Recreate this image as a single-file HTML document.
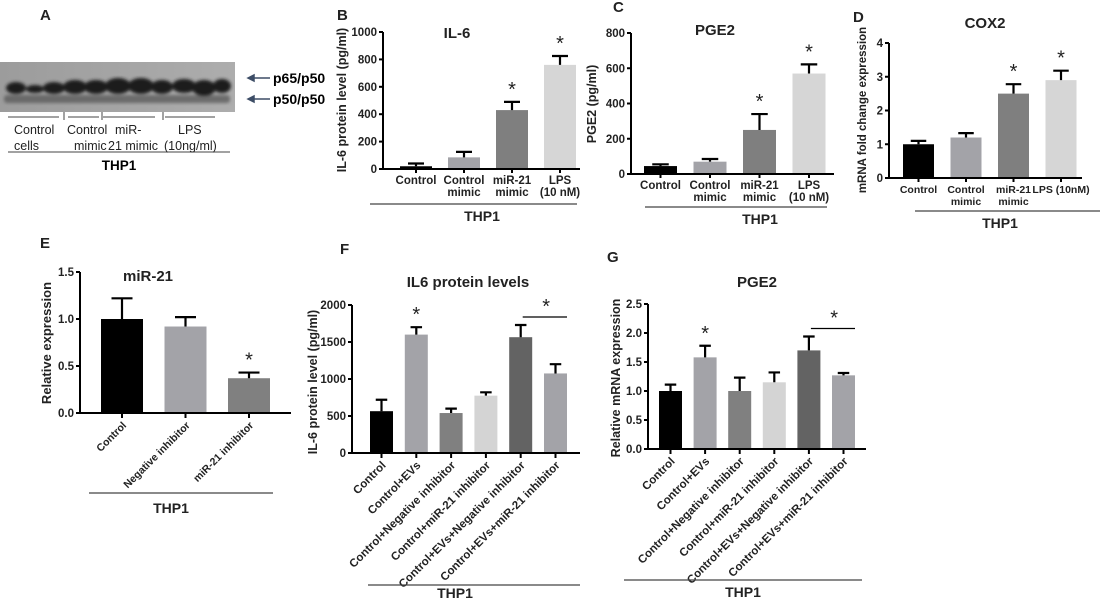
<!DOCTYPE html>
<html><head><meta charset="utf-8">
<style>
body{margin:0;background:#fff;}
svg{display:block;font-family:"Liberation Sans",Arial,sans-serif;}
.t{font-size:11.5px;font-weight:bold;fill:#222;}
.ttl{font-size:15px;font-weight:bold;fill:#222;}
.pl{font-size:15px;font-weight:bold;fill:#222;}
</style></head>
<body>
<svg id="fig" width="1100" height="603" viewBox="0 0 1100 603">
<g id="blot">
  <text x="40" y="20" class="pl">A</text>
  <defs><linearGradient id="bg" x1="0" x2="1"><stop offset="0" stop-color="#9c9c9c"/><stop offset="1" stop-color="#adadad"/></linearGradient>
  <filter id="bl"><feGaussianBlur stdDeviation="1.6"/></filter></defs>
  <rect x="0" y="62" width="235" height="50" fill="url(#bg)"/>
  <g filter="url(#bl)">
    <rect x="4" y="95" width="226" height="8" rx="3" fill="#555" opacity="0.75"/>
    <g fill="#1e1e1e">
      <ellipse cx="16" cy="88" rx="10" ry="6"/><ellipse cx="35" cy="89" rx="9" ry="4"/><ellipse cx="54" cy="88" rx="11" ry="6"/>
      <ellipse cx="75" cy="87" rx="12" ry="7"/><ellipse cx="96" cy="87" rx="12" ry="7"/>
      <ellipse cx="118" cy="86" rx="13" ry="8"/><ellipse cx="141" cy="86" rx="13" ry="8"/><ellipse cx="162" cy="87" rx="11" ry="7"/>
      <ellipse cx="184" cy="86" rx="12" ry="7"/><ellipse cx="204" cy="88" rx="12" ry="8"/><ellipse cx="222" cy="86" rx="9" ry="7"/>
    </g>
  </g>
  <g stroke="#3d4d66" stroke-width="1.5" fill="#3d4d66">
    <line x1="250" y1="78" x2="270" y2="78"/><polygon points="248,78 254,75 254,81"/>
    <line x1="250" y1="99" x2="270" y2="99"/><polygon points="248,99 254,96 254,102"/>
  </g>
  <text x="273" y="83" style="font-size:14px;font-weight:bold">p65/p50</text>
  <text x="273" y="104" style="font-size:14px;font-weight:bold">p50/p50</text>
  <g stroke="#444" stroke-width="1">
    <line x1="8" y1="117" x2="59" y2="117"/><line x1="68" y1="117" x2="99" y2="117"/>
    <line x1="103" y1="117" x2="155" y2="117"/><line x1="165" y1="117" x2="215" y2="117"/>
    <line x1="64" y1="112" x2="64" y2="120"/><line x1="102" y1="112" x2="102" y2="120"/><line x1="163" y1="112" x2="163" y2="120"/>
    <line x1="8" y1="152" x2="230" y2="152"/>
  </g>
  <g style="font-size:12.5px;fill:#222">
    <text x="14" y="134">Control</text><text x="14" y="150">cells</text>
    <text x="67" y="134">Control</text><text x="74" y="150">mimic</text>
    <text x="115" y="134">miR-</text><text x="108" y="150">21 mimic</text>
    <text x="178" y="134">LPS</text><text x="164" y="150">(10ng/ml)</text>
  </g>
  <text x="119" y="170" text-anchor="middle" style="font-size:13.5px;font-weight:bold">THP1</text>
</g>
<g id="charts"></g>
</svg>
<script>
// Panel B: IL-6
const bCats = [["Control"],["Control","mimic"],["miR-21","mimic"],["LPS","(10 nM)"]];
const bVals = [20, 85, 430, 760];
const bErr = [40, 125, 490, 825];
const bTicks = [0,200,400,600,800,1000];
// Panel C: PGE2
const cCats = [["Control"],["Control","mimic"],["miR-21","mimic"],["LPS","(10 nM)"]];
const cVals = [45, 70, 250, 570];
const cErr = [55, 85, 340, 622];
const cTicks = [0,200,400,600,800];
// Panel D: COX2
const dCats = [["Control"],["Control","mimic"],["miR-21","mimic"],["LPS (10nM)"]];
const dVals = [1.0, 1.2, 2.5, 2.9];
const dErr = [1.1, 1.33, 2.78, 3.18];
const dTicks = [0,1,2,3,4];
// Panel E: miR-21
const eCats = ["Control","Negative inhibitor","miR-21 inhibitor"];
const eVals = [1.0, 0.92, 0.37];
const eErr = [1.22, 1.02, 0.43];
const eTicks = ["0.0","0.5","1.0","1.5"];
// Panel F: IL6 protein levels
const fCats = ["Control","Control+EVs","Control+Negative inhibitor","Control+miR-21 inhibitor","Control+EVs+Negative inhibitor","Control+EVs+miR-21 inhibitor"];
const fVals = [565, 1600, 540, 775, 1565, 1075];
const fErr = [720, 1700, 600, 820, 1730, 1200];
const fTicks = [0,500,1000,1500,2000];
// Panel G: PGE2 mRNA
const gCats = ["Control","Control+EVs","Control+Negative inhibitor","Control+miR-21 inhibitor","Control+EVs+Negative inhibitor","Control+EVs+miR-21 inhibitor"];
const gVals = [1.0, 1.58, 1.0, 1.15, 1.7, 1.27];
const gErr = [1.11, 1.78, 1.23, 1.32, 1.94, 1.31];
const gTicks = ["0.0","0.5","1.0","1.5","2.0","2.5"];

const NS = "http://www.w3.org/2000/svg";
const root = document.getElementById("charts");
function el(tag, attrs, parent, text){
  const e = document.createElementNS(NS, tag);
  for (const k in attrs) e.setAttribute(k, attrs[k]);
  if (text !== undefined) e.textContent = text;
  (parent||root).appendChild(e);
  return e;
}
function chart(o){
  const g = el("g", {});
  
  
  const ys = v => o.y0 - (v / o.yMax) * (o.y0 - o.yTop);
  const xc = i => o.x0 + i*o.step + o.bw/2;
  const lbl = el("text", {x:o.lx, y:o.ly, class:"pl"}, g, o.letter);
  
  
  const t = el("text", {x:o.tx, y:o.ty, class:"ttl", "text-anchor":"middle"}, g, o.title);
  
  
  o.vals.forEach((v,i)=>{
    const x = o.x0 + i*o.step, y = ys(v);
    const r = el("rect", {x:x, y:y, width:o.bw, height:o.y0-y, fill:o.colors[i]}, g);
    
    
    const ye = ys(o.err[i]);
    const e = el("path", {d:`M${xc(i)},${y} V${ye} M${xc(i)-o.bw/4},${ye} H${xc(i)+o.bw/4}`, stroke:"#000", "stroke-width":2.2, fill:"none"}, g);
    
    
  });
  const ax = el("path", {d:`M${o.ax},${o.yTop} V${o.y0} H${o.axEnd}`, stroke:"#000", "stroke-width":2, fill:"none"}, g);
  
  
  o.ticks.forEach(tk=>{
    const v = parseFloat(tk), y = ys(v);
    el("line", {x1:o.ax-4, x2:o.ax, y1:y, y2:y, stroke:"#000", "stroke-width":2}, g);
    const tl = el("text", {x:o.ax-6, y:y+4, class:"t", "text-anchor":"end"}, g, tk);
    
    
  });
  const yt = el("text", {x:0, y:0, class:"t", "text-anchor":"middle", transform:`translate(${o.ytx},${o.yty}) rotate(-90)`, style:"font-size:"+(o.ytSize||12.5)+"px"}, g, o.ytitle);
  
  
  o.cats.forEach((c,i)=>{
    if (o.rot){
      el("line", {x1:xc(i), x2:xc(i), y1:o.y0, y2:o.y0+5, stroke:"#000", "stroke-width":2}, g);
      const ct = el("text", {x:0, y:0, class:"t", "text-anchor":"end", transform:`translate(${xc(i)+5},${o.y0+13}) rotate(-45)`, style:"font-size:"+(o.rotSize||11.5)+"px"}, g, c);
      
      
    } else {
      el("line", {x1:xc(i), x2:xc(i), y1:o.y0, y2:o.y0+4, stroke:"#000", "stroke-width":2}, g);
      c.forEach((line,k)=>{
        const ct = el("text", {x:xc(i), y:o.y0+15+k*12, class:"t", "text-anchor":"middle", style:"font-size:"+(o.catSize||11.5)+"px"}, g, line);
        
        
      });
    }
  });
  o.stars.forEach(i=>{
    const s = el("text", {x:xc(i), y:ys(o.err[i])-6, "text-anchor":"middle", style:"font-size:20px;fill:#222"}, g, "*");
    
    
  });
  if (o.sig){
    const [a,b] = o.sig;
    const yy = Math.min(ys(o.err[a]), ys(o.err[b])) - o.sigGap;
    el("line", {x1:xc(a)+2, x2:xc(b)+o.bw/2, y1:yy, y2:yy, stroke:"#000", "stroke-width":1.3}, g);
    const s = el("text", {x:(xc(a)+xc(b))/2+8, y:yy-4, "text-anchor":"middle", style:"font-size:20px;fill:#222"}, g, "*");
    
    
  }
  el("line", {x1:o.gl[0], x2:o.gl[1], y1:o.gl[2], y2:o.gl[2], stroke:"#444", "stroke-width":1.3}, g);
  const th = el("text", {x:o.thx, y:o.thy, class:"t", "text-anchor":"middle", style:"font-size:14px"}, g, "THP1");
  
  
}
const C4 = ["#000","#a3a3a8","#7f7f7f","#d6d6d6"];
const C6 = ["#000","#a3a3a8","#808080","#d4d4d4","#636363","#a3a3a8"];
chart({name:"chart-b-il6", letter:"B", lx:337, ly:20, title:"IL-6", tx:457, ty:38,
  ax:383, axEnd:580, y0:169, yTop:32, yMax:1000, x0:400, step:48, bw:32,
  vals:bVals, err:bErr, ticks:bTicks.map(String), cats:bCats, colors:C4, stars:[2,3],
  ytitle:"IL-6 protein level (pg/ml)", ytx:346, yty:100, gl:[370,577,204], thx:482, thy:221});
chart({name:"chart-c-pge2", letter:"C", lx:613, ly:12, title:"PGE2", tx:715, ty:35,
  ax:631, axEnd:834, y0:174, yTop:33, yMax:800, x0:644, step:49.5, bw:33,
  vals:cVals, err:cErr, ticks:cTicks.map(String), cats:cCats, colors:C4, stars:[2,3],
  ytitle:"PGE2 (pg/ml)", ytx:596, yty:104, gl:[645,827,207], thx:760, thy:224});
chart({name:"chart-d-cox2", letter:"D", lx:853, ly:22, title:"COX2", tx:985, ty:28,
  ax:889, axEnd:1082, y0:178, yTop:43, yMax:4, x0:903, step:47.5, bw:31,
  vals:dVals, err:dErr, ticks:dTicks.map(String), cats:dCats, colors:C4, stars:[2,3], catSize:10.5,
  ytitle:"mRNA fold change expression", ytx:866, yty:110, ytSize:11.5, gl:[915,1100,211], thx:1000, thy:228});
chart({name:"chart-e-mir21", letter:"E", lx:40, ly:248, title:"miR-21", tx:148, ty:281,
  ax:80, axEnd:291, y0:413, yTop:272, yMax:1.5, x0:101, step:63.5, bw:42,
  vals:eVals, err:eErr, ticks:eTicks, cats:eCats, colors:["#000","#a3a3a8","#808080"], stars:[2], rot:true, rotSize:10.5,
  ytitle:"Relative expression", ytx:51, yty:343, ytSize:13, gl:[89,273,493], thx:171, thy:513});
chart({name:"chart-f-il6-protein", letter:"F", lx:340, ly:254, title:"IL6 protein levels", tx:468, ty:287,
  ax:352, axEnd:580, y0:453, yTop:305, yMax:2000, x0:370, step:34.8, bw:23,
  vals:fVals, err:fErr, ticks:fTicks.map(String), cats:fCats, colors:C6, stars:[1], rot:true,
  sig:[4,5], sigGap:8, ytitle:"IL-6 protein level (pg/ml)", ytx:317, yty:382, gl:[368,580,585], thx:455, thy:598});
chart({name:"chart-g-pge2-mrna", letter:"G", lx:607, ly:262, title:"PGE2", tx:757, ty:287,
  ax:648, axEnd:866, y0:449, yTop:304, yMax:2.5, x0:659, step:34.6, bw:23,
  vals:gVals, err:gErr, ticks:gTicks, cats:gCats, colors:C6, stars:[1], rot:true,
  sig:[4,5], sigGap:8, ytitle:"Relative mRNA expression", ytx:620, yty:378, gl:[624,862,580], thx:743, thy:597});
</script>
</body></html>
